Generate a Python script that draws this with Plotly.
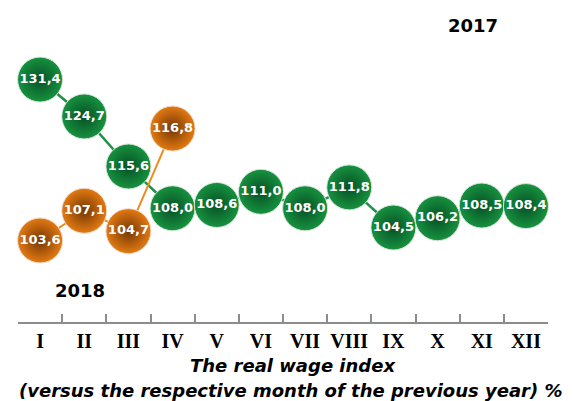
import plotly.graph_objects as go

# Month labels (Roman numerals) and real wage index values, % vs same month of previous year
months = ["I", "II", "III", "IV", "V", "VI", "VII", "VIII", "IX", "X", "XI", "XII"]
wage_2017 = [131.4, 124.7, 115.6, 108.0, 108.6, 111.0, 108.0, 111.8, 104.5, 106.2, 108.5, 108.4]
wage_2018 = [103.6, 107.1, 104.7, 116.8]

def fmt(v):
    return f"{v:.1f}".replace(".", ",")

GREEN_DARK = "#064f25"
GREEN_LIGHT = "#17923f"
ORANGE_DARK = "#723604"
ORANGE_LIGHT = "#e47a12"

label_font = dict(family="DejaVu Sans", size=13, color="white")

fig = go.Figure()

fig.add_trace(go.Scatter(
    x=months, y=wage_2017,
    mode="lines+markers+text",
    line=dict(color="#1f9148", width=2.5),
    marker=dict(size=45, color=GREEN_LIGHT,
                gradient=dict(type="radial", color=GREEN_DARK),
                line=dict(color="#d9e6dc", width=1)),
    text=[f"<b>{fmt(v)}</b>" for v in wage_2017],
    textposition="middle center",
    textfont=label_font,
    cliponaxis=False, hoverinfo="skip", showlegend=False,
))

fig.add_trace(go.Scatter(
    x=months[:len(wage_2018)], y=wage_2018,
    yaxis="y2",
    mode="lines+markers+text",
    line=dict(color="#f08a1e", width=2),
    marker=dict(size=45, color=ORANGE_LIGHT,
                gradient=dict(type="radial", color=ORANGE_DARK),
                line=dict(color="#ecdccc", width=1)),
    text=[f"<b>{fmt(v)}</b>" for v in wage_2018],
    textposition="middle center",
    textfont=label_font,
    cliponaxis=False, hoverinfo="skip", showlegend=False,
))

W, H = 573, 401

def note(text, px, py, size=18):
    return dict(text=text, x=px / W, y=1 - py / H, xref="paper", yref="paper",
                xanchor="center", yanchor="middle", showarrow=False,
                font=dict(family="DejaVu Sans", size=size, color="black"))

fig.update_layout(
    width=W, height=H,
    margin=dict(l=0, r=0, t=0, b=0),
    paper_bgcolor="white", plot_bgcolor="white",
    xaxis=dict(
        type="category",
        categoryorder="array", categoryarray=months,
        range=[-0.5, 11.5],
        domain=[18 / W, 548 / W],
        anchor="free", position=1 - 323 / H,
        showgrid=False, zeroline=False,
        showline=True, linecolor="#8c8c8c", linewidth=1.5,
        ticks="inside", tickson="boundaries", ticklen=8,
        tickcolor="#8c8c8c", tickwidth=1.5,
        tickangle=0,
        tickfont=dict(family="Liberation Serif", size=20, color="black"),
        tickprefix="<b>", ticksuffix="</b>",
    ),
    yaxis=dict(range=[72.96, 145.87], domain=[0, 1], visible=False),
    yaxis2=dict(range=[84.67, 131.96], overlaying="y", visible=False),
    annotations=[
        note("<b>2017</b>", 473, 26),
        note("<b>2018</b>", 80, 290),
        note("<b><i>The real wage index</i></b>", 293, 365),
        note("<b><i>(versus the respective month of the previous year) %</i></b>", 291, 390),
    ],
)

fig.write_html("out.html")
